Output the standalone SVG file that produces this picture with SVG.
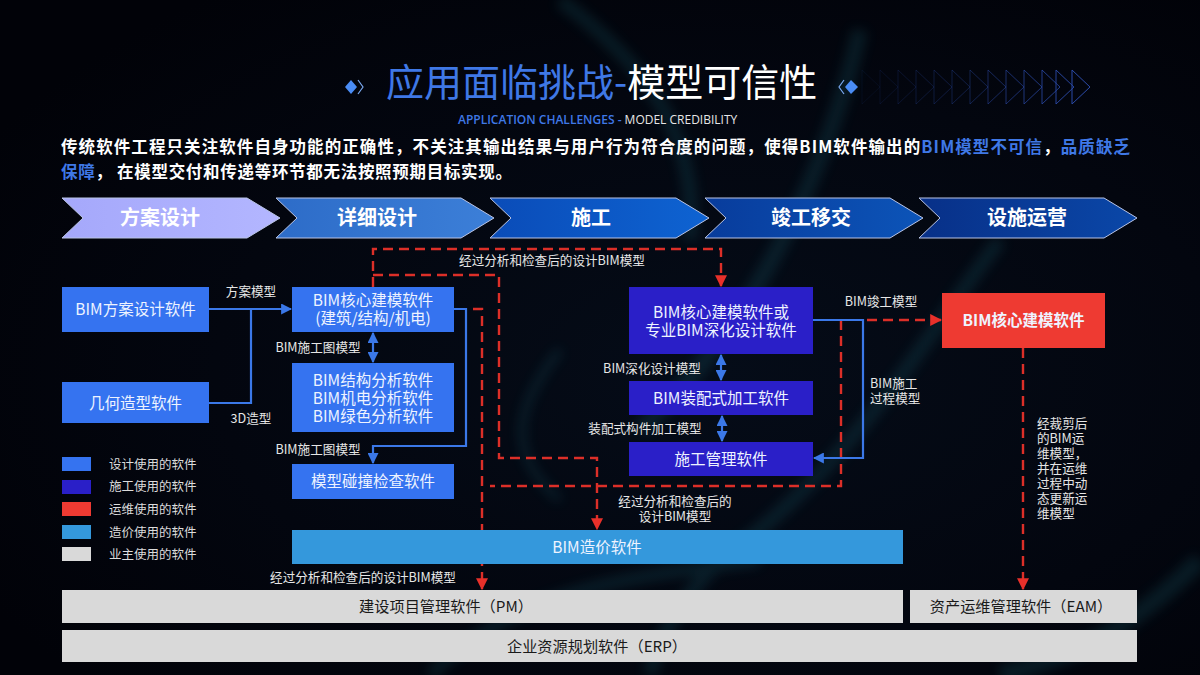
<svg xmlns="http://www.w3.org/2000/svg" width="1200" height="675" viewBox="0 0 1200 675">
<defs>
<style>
text{font-family:"Noto Sans CJK SC","Noto Sans",sans-serif;fill:#fff}
.box{font-size:15.500px;text-anchor:middle;fill:#eef3ff}
.lab{font-size:12.600px;fill:#e6e6e6}
.mid{text-anchor:middle}
.leg{font-size:12.500px;fill:#dcdcdc}
.chev{font-size:20px;font-weight:700;text-anchor:middle}
.dark{font-size:15.200px;text-anchor:middle;fill:#1a1a1a}
.b{stroke:#3b78e8;stroke-width:2.200px;fill:none}
.r{stroke:#dc2f28;stroke-width:2.400px;stroke-dasharray:10 6;fill:none}
.tri{fill:none;stroke:#2b4aa8;stroke-width:1px}
</style>
<linearGradient id="g1" x1="0" x2="1"><stop offset="0" stop-color="#a5a8fb"/><stop offset="1" stop-color="#b3b6ff"/></linearGradient>
<linearGradient id="g2" x1="0" x2="1"><stop offset="0" stop-color="#2d6cc8"/><stop offset="1" stop-color="#3c7fd8"/></linearGradient>
<linearGradient id="g3" x1="0" x2="1"><stop offset="0" stop-color="#0a4cb8"/><stop offset="1" stop-color="#0e63d2"/></linearGradient>
<linearGradient id="g4" x1="0" x2="1"><stop offset="0" stop-color="#083c9c"/><stop offset="1" stop-color="#0c54b8"/></linearGradient>
<linearGradient id="g5" x1="0" x2="1"><stop offset="0" stop-color="#083088"/><stop offset="1" stop-color="#0a47a8"/></linearGradient>
<radialGradient id="bg" cx="0.6" cy="0.55" r="0.7"><stop offset="0" stop-color="#050c18"/><stop offset="0.6" stop-color="#03060f"/><stop offset="1" stop-color="#010208"/></radialGradient>
<filter id="bl" x="-20%" y="-20%" width="140%" height="140%"><feGaussianBlur stdDeviation="6"/></filter>
<marker id="ab" viewBox="0 0 10 10" refX="9" refY="5" markerWidth="5" markerHeight="5" orient="auto-start-reverse"><path d="M0 0L10 5L0 10z" fill="#3b78e8"/></marker>
<marker id="ar" viewBox="0 0 10 10" refX="9" refY="5" markerWidth="5" markerHeight="5" orient="auto"><path d="M0 0L10 5L0 10z" fill="#e8302a"/></marker>
</defs>
<rect width="1200" height="675" fill="url(#bg)"/>
<g fill="none" stroke="#1d6a78" filter="url(#bl)" opacity="0.22">
<path d="M560 0C640 60 700 130 690 240" stroke-width="14"/>
<path d="M860 30C830 160 760 320 640 430" stroke-width="16"/>
<path d="M1000 240C930 330 850 470 720 560C690 590 660 630 650 675" stroke-width="14"/>
<path d="M430 675C520 590 610 580 760 560" stroke-width="12"/>
<path d="M1200 560C1120 640 1060 660 1000 675" stroke-width="18"/>
<path d="M560 350C520 400 500 450 560 500" stroke-width="8"/>
</g>
<g id="title">
<text x="386" y="96" font-size="38" style="fill:#3f78e6">应用面临挑战-<tspan style="fill:#fff">模型可信性</tspan></text>
<text x="458" y="124" font-size="12" style="font-family:'Open Sans',sans-serif;font-weight:600;fill:#3f78e6">APPLICATION CHALLENGES - <tspan style="fill:#e6e6e6;font-weight:400">MODEL CREDIBILITY</tspan></text>
<path d="M345 87l6-7 6 7-6 7z" fill="#4a8cf5"/><path d="M358 80l5 7-5 7" fill="none" stroke="#7aa8f0" stroke-width="1.200"/>
<path d="M845 87l6-7 7 7-7 7z" fill="#4a8cf5"/><path d="M844 80l-5 7 5 7" fill="none" stroke="#7aa8f0" stroke-width="1.200"/>
<g class="tri">
<path opacity="0.1" d="M862 70l18 17-18 17z"/><path opacity="0.15" d="M880 70l18 17-18 17z"/><path opacity="0.2" d="M898 70l18 17-18 17z"/><path opacity="0.25" d="M916 70l18 17-18 17z"/><path opacity="0.3" d="M934 70l18 17-18 17z"/><path opacity="0.35" d="M952 70l18 17-18 17z"/><path opacity="0.4" d="M970 70l18 17-18 17z"/><path opacity="0.5" d="M988 70l18 17-18 17z"/><path opacity="0.6" d="M1006 70l18 17-18 17z"/><path opacity="0.7" d="M1024 70l18 17-18 17z"/><path opacity="0.8" d="M1042 70l18 17-18 17z"/><path opacity="0.9" d="M1056 70l18 17-18 17z"/><path d="M1072 70l18 17-18 17z"/>
</g>
</g>
<g id="intro" font-size="16.500" style="font-weight:700">
<text x="61" y="153" textLength="1069" lengthAdjust="spacing">传统软件工程只关注软件自身功能的正确性，不关注其输出结果与用户行为符合度的问题，使得BIM软件输出的<tspan style="fill:#3f78e6">BIM模型不可信</tspan>，<tspan style="fill:#3f78e6">品质缺乏</tspan></text>
<text x="61" y="178" textLength="451" lengthAdjust="spacing"><tspan style="fill:#3f78e6">保障</tspan>，  在模型交付和传递等环节都无法按照预期目标实现。</text>
</g>
<g id="stages" stroke="#b9c4e6" stroke-width="1">
<g id="s1"><path d="M62 198H247L280 218L247 238H62L83 218z" fill="url(#g1)"/><text class="chev" x="160" y="225" stroke="none">方案设计</text></g>
<g id="s2"><path d="M276 198H461L494 218L461 238H276L297 218z" fill="url(#g2)"/><text class="chev" x="377" y="225" stroke="none">详细设计</text></g>
<g id="s3"><path d="M490 198H676L709 218L676 238H490L511 218z" fill="url(#g3)"/><text class="chev" x="591" y="225" stroke="none">施工</text></g>
<g id="s4"><path d="M705 198H890L923 218L890 238H705L726 218z" fill="url(#g4)"/><text class="chev" x="811" y="225" stroke="none">竣工移交</text></g>
<g id="s5"><path d="M919 198H1104L1137 218L1104 238H919L940 218z" fill="url(#g5)"/><text class="chev" x="1027" y="225" stroke="none">设施运营</text></g>
</g>
<g id="connectors">
<path class="r" d="M373 287V249H721V286" marker-end="url(#ar)"/>
<path class="r" d="M373 275H499V458H597V529" marker-end="url(#ar)"/>
<path class="r" d="M473 309H482V589" marker-end="url(#ar)"/>
<path class="r" d="M841 320V486H490"/>
<path class="r" d="M867 320H941" marker-end="url(#ar)"/>
<path class="r" d="M1023 348V589" marker-end="url(#ar)"/>
<path class="b" d="M209 309H291" marker-end="url(#ab)"/>
<path class="b" d="M209 403H251V309"/>
<path class="b" d="M373 333V362" marker-start="url(#ab)" marker-end="url(#ab)"/>
<path class="b" d="M454 309H466V446H373V463" marker-end="url(#ab)"/>
<path class="b" d="M721 355V380" marker-start="url(#ab)" marker-end="url(#ab)"/>
<path class="b" d="M722 416V441" marker-start="url(#ab)" marker-end="url(#ab)"/>
<path class="b" d="M813 320H863V458H814" marker-end="url(#ab)"/>
</g>
<g id="labels" class="lab">
<text class="lab mid" x="251" y="296">方案模型</text>
<text class="lab mid" x="251" y="423">3D造型</text>
<text class="lab mid" x="318" y="352">BIM施工图模型</text>
<text class="lab mid" x="318" y="454">BIM施工图模型</text>
<text class="lab mid" x="552" y="265">经过分析和检查后的设计BIM模型</text>
<text class="lab mid" x="652" y="373">BIM深化设计模型</text>
<text class="lab mid" x="645" y="433">装配式构件加工模型</text>
<text class="lab mid" x="881" y="306">BIM竣工模型</text>
<text class="lab" x="870" y="388">BIM施工</text>
<text class="lab" x="870" y="403">过程模型</text>
<text class="lab mid" x="675" y="506">经过分析和检查后的</text>
<text class="lab mid" x="675" y="521">设计BIM模型</text>
<text class="lab mid" x="363" y="582">经过分析和检查后的设计BIM模型</text>
<text class="lab" x="1037" y="428">经裁剪后</text>
<text class="lab" x="1037" y="443">的BIM运</text>
<text class="lab" x="1037" y="458">维模型，</text>
<text class="lab" x="1037" y="473">并在运维</text>
<text class="lab" x="1037" y="488">过程中动</text>
<text class="lab" x="1037" y="503">态更新运</text>
<text class="lab" x="1037" y="518">维模型</text>
</g>
<g id="n-scheme"><rect x="62" y="287" width="147" height="45" fill="#3573f0"/><text class="box" x="135.500" y="315">BIM方案设计软件</text></g>
<g id="n-geom"><rect x="62" y="382" width="147" height="41" fill="#3573f0"/><text class="box" x="135.500" y="409">几何造型软件</text></g>
<g id="n-core"><rect x="292" y="287" width="162" height="45" fill="#3573f0"/><text class="box" x="373" y="306">BIM核心建模软件</text><text class="box" x="373" y="324">(建筑/结构/机电)</text></g>
<g id="n-analysis"><rect x="292" y="363" width="162" height="69" fill="#3573f0"/><text class="box" x="373" y="386">BIM结构分析软件</text><text class="box" x="373" y="404">BIM机电分析软件</text><text class="box" x="373" y="422">BIM绿色分析软件</text></g>
<g id="n-clash"><rect x="292" y="464" width="162" height="35" fill="#3573f0"/><text class="box" x="373" y="487">模型碰撞检查软件</text></g>
<g id="n-deep"><rect x="629" y="287" width="184" height="67" fill="#2a1fc8"/><text class="box" x="721" y="318">BIM核心建模软件或</text><text class="box" x="721" y="336">专业BIM深化设计软件</text></g>
<g id="n-prefab"><rect x="629" y="381" width="184" height="34" fill="#2a1fc8"/><text class="box" x="721" y="404">BIM装配式加工软件</text></g>
<g id="n-cm"><rect x="629" y="442" width="184" height="34" fill="#2a1fc8"/><text class="box" x="721" y="465">施工管理软件</text></g>
<g id="n-ops"><rect x="942" y="293" width="163" height="55" fill="#ee3a32"/><text class="box" x="1023.500" y="326" style="font-weight:700;font-size:15.500px">BIM核心建模软件</text></g>
<g id="n-cost"><rect x="292" y="530" width="611" height="34" fill="#3498dc"/><text class="box" x="597" y="553">BIM造价软件</text></g>
<g id="n-pm"><rect x="62" y="590" width="841" height="33" fill="#d9d9d9"/><text class="dark" x="446" y="612">建设项目管理软件（PM）</text></g>
<g id="n-eam"><rect x="910" y="590" width="227" height="33" fill="#d9d9d9"/><text class="dark" x="1021" y="612">资产运维管理软件（EAM）</text></g>
<g id="n-erp"><rect x="62" y="630" width="1075" height="32" fill="#d9d9d9"/><text class="dark" x="597" y="652">企业资源规划软件（ERP）</text></g>
<g id="legend">
<rect x="62" y="457" width="29" height="14" fill="#3573f0"/><text class="leg" x="109" y="469">设计使用的软件</text>
<rect x="62" y="480" width="29" height="14" fill="#2a1fc8"/><text class="leg" x="109" y="491">施工使用的软件</text>
<rect x="62" y="502" width="29" height="14" fill="#ee3a32"/><text class="leg" x="109" y="514">运维使用的软件</text>
<rect x="62" y="525" width="29" height="14" fill="#3498dc"/><text class="leg" x="109" y="537">造价使用的软件</text>
<rect x="62" y="547" width="29" height="14" fill="#d9d9d9"/><text class="leg" x="109" y="559">业主使用的软件</text>
</g>
</svg>
